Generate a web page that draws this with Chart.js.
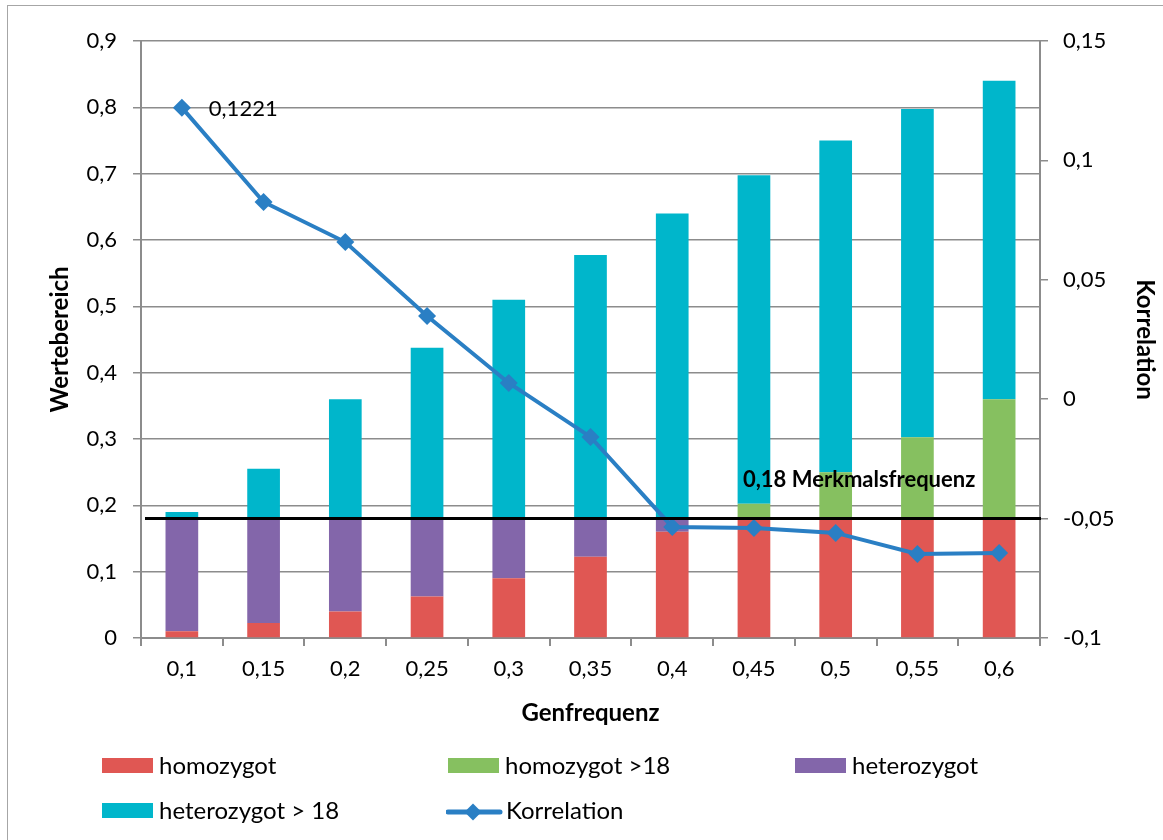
<!DOCTYPE html>
<html>
<head>
<meta charset="utf-8">
<script src="https://cdn.jsdelivr.net/npm/chart.js@4.4.1/dist/chart.umd.min.js"></script>
<style>
    body { margin: 0; background: #fff; font-family: Lato, "Open Sans", sans-serif; }
    #page { position: relative; width: 1163px; height: 840px; overflow: hidden; }
    #frame { position: absolute; left: 7px; top: 5px; width: 1200px; height: 900px; border: 1px solid #a6a6a6; }
    #chartBox { position: absolute; left: 0; top: 0; width: 1163px; height: 840px; }
    .legItem { position: absolute; font-size: 24px; color: #000; line-height: 28px; }
    .swatch { position: absolute; width: 51px; height: 15px; }
    .legText { position: absolute; white-space: nowrap; }
</style>
</head>
<body>
<div id="page">
    <div id="frame"></div>
    <div id="chartBox"><canvas id="genChart" width="1163" height="840"></canvas></div>
    <div id="legend"></div>
</div>
<script>
const categories = ["0,1", "0,15", "0,2", "0,25", "0,3", "0,35", "0,4", "0,45", "0,5", "0,55", "0,6"];

const homozygot = [0.01, 0.0225, 0.04, 0.0625, 0.09, 0.1225, 0.16, 0.18, 0.18, 0.18, 0.18];
const homozygotOver18 = [0, 0, 0, 0, 0, 0, 0, 0.0225, 0.07, 0.1225, 0.18];
const heterozygot = [0.17, 0.1575, 0.14, 0.1175, 0.09, 0.0575, 0.02, 0, 0, 0, 0];
const heterozygotOver18 = [0.01, 0.075, 0.18, 0.2575, 0.33, 0.3975, 0.46, 0.495, 0.5, 0.495, 0.48];

const korrelation = [0.1221, 0.0826, 0.0658, 0.0348, 0.0068, -0.0158, -0.0535, -0.0539, -0.056, -0.0648, -0.0644];

const merkmalsfrequenz = 0.18;

const leftTicks = [0, 0.1, 0.2, 0.3, 0.4, 0.5, 0.6, 0.7, 0.8, 0.9];
const rightTicks = [-0.1, -0.05, 0, 0.05, 0.1, 0.15];

const colors = {
    homozygot: "#e05753",
    homozygotOver18: "#86c060",
    heterozygot: "#8366aa",
    heterozygotOver18: "#00b6cb",
    korrelation: "#2a7fc4"
};

const gridGray = "#8c8c8c";
const FONT = "Lato, 'Open Sans', sans-serif";

function fmt(v) {
    const n = parseFloat(v.toFixed(4));
    return String(n).replace(".", ",");
}

// black threshold line, its label and the label of the first point
const thresholdPlugin = {
    id: "threshold",
    afterDatasetsDraw(chart) {
        const ctx = chart.ctx;
        const y = chart.scales.y.getPixelForValue(merkmalsfrequenz);
        const area = chart.chartArea;
        ctx.save();
        ctx.strokeStyle = "#000";
        ctx.lineWidth = 3;
        ctx.beginPath();
        ctx.moveTo(area.left + 4, y);
        ctx.lineTo(area.right + 1, y);
        ctx.stroke();

        const xs = chart.scales.x.getPixelForValue(7) - 11;
        ctx.fillStyle = "#000";
        ctx.font = "bold 22px " + FONT;
        ctx.textBaseline = "middle";
        ctx.textAlign = "left";
        ctx.fillText("0,18 Merkmalsfrequenz", xs, y - 39);

        const p = chart.getDatasetMeta(4).data[0];
        ctx.font = "22px " + FONT;
        ctx.fillText(fmt(korrelation[0]), p.x + 27, p.y + 1);
        ctx.restore();
    }
};

function buildLegend() {
    const items = [
        { label: "homozygot", color: colors.homozygot, x: 102, y: 766 },
        { label: "homozygot >18", color: colors.homozygotOver18, x: 448, y: 766 },
        { label: "heterozygot", color: colors.heterozygot, x: 795, y: 766 },
        { label: "heterozygot > 18", color: colors.heterozygotOver18, x: 102, y: 811 },
        { label: "Korrelation", color: colors.korrelation, x: 446, y: 811, line: true }
    ];
    const legend = document.getElementById("legend");
    items.forEach(item => {
        const el = document.createElement("div");
        el.className = "legItem";
        el.style.left = item.x + "px";
        el.style.top = (item.y - 14) + "px";
        if (item.line) {
            el.innerHTML = `
                <svg style="position:absolute;left:0;top:0" width="60" height="28">
                    <line x1="2" y1="15" x2="54" y2="15" stroke="${item.color}" stroke-width="5" stroke-linecap="round"/>
                    <rect x="21" y="9" width="12" height="12" fill="${item.color}" transform="rotate(45 27 15)"/>
                </svg>
                <span class="legText" style="left:60px;top:-1px">${item.label}</span>`;
        } else {
            el.innerHTML = `
                <div class="swatch" style="left:0;top:6px;background:${item.color}"></div>
                <span class="legText" style="left:57px;top:-1px">${item.label}</span>`;
        }
        legend.appendChild(el);
    });
}

function createChart() {
    const ctx = document.getElementById("genChart").getContext("2d");

    const barSet = (label, data, color) => ({
        type: "bar",
        label: label,
        data: data,
        backgroundColor: color,
        yAxisID: "y",
        stack: "s",
        order: 1,
        barPercentage: 0.4,
        categoryPercentage: 1.0
    });

    new Chart(ctx, {
        data: {
            labels: categories,
            datasets: [
                barSet("homozygot", homozygot, colors.homozygot),
                barSet("homozygot >18", homozygotOver18, colors.homozygotOver18),
                barSet("heterozygot", heterozygot, colors.heterozygot),
                barSet("heterozygot > 18", heterozygotOver18, colors.heterozygotOver18),
                {
                    type: "line",
                    label: "Korrelation",
                    data: korrelation,
                    yAxisID: "y1",
                    order: 0,
                    borderColor: colors.korrelation,
                    backgroundColor: colors.korrelation,
                    borderWidth: 4,
                    pointStyle: "rectRot",
                    pointRadius: 9,
                    pointBorderWidth: 0,
                    tension: 0
                }
            ]
        },
        options: {
            responsive: false,
            animation: false,
            devicePixelRatio: 1,
            layout: { padding: { left: 0, right: 0, top: 41, bottom: 108 } },
            plugins: {
                legend: { display: false },
                tooltip: { enabled: false }
            },
            scales: {
                x: {
                    stacked: true,
                    offset: true,
                    grid: {
                        offset: true,
                        drawOnChartArea: false,
                        tickLength: 8,
                        color: gridGray,
                        lineWidth: 2
                    },
                    border: { color: gridGray, width: 2 },
                    ticks: { color: "#000", font: { family: FONT, size: 22 }, padding: 10, maxRotation: 0 },
                    title: {
                        display: true,
                        text: "Genfrequenz",
                        color: "#000",
                        font: { family: FONT, size: 24, weight: "bold" },
                        padding: { top: 0, bottom: 4 }
                    },
                    afterFit(scale) { scale.height = 94; }
                },
                y: {
                    stacked: true,
                    position: "left",
                    min: 0,
                    max: 0.9,
                    afterBuildTicks(scale) { scale.ticks = leftTicks.map(v => ({ value: v })); },
                    grid: { color: gridGray, lineWidth: 1.5, tickLength: 8 },
                    border: { color: gridGray, width: 2 },
                    ticks: {
                        color: "#000",
                        font: { family: FONT, size: 22 },
                        padding: 16,
                        callback: v => fmt(v)
                    },
                    title: {
                        display: true,
                        text: "Wertebereich",
                        color: "#000",
                        font: { family: FONT, size: 24, weight: "bold" },
                        padding: { top: 46, bottom: 0 }
                    },
                    afterFit(scale) { scale.width = 141; }
                },
                y1: {
                    position: "right",
                    min: -0.1,
                    max: 0.15,
                    afterBuildTicks(scale) { scale.ticks = rightTicks.map(v => ({ value: v })); },
                    grid: { drawOnChartArea: false, color: gridGray, lineWidth: 1.5, tickLength: 8 },
                    border: { color: gridGray, width: 2 },
                    ticks: {
                        color: "#000",
                        font: { family: FONT, size: 22 },
                        padding: 15,
                        callback: v => fmt(v)
                    },
                    title: {
                        display: true,
                        text: "Korrelation",
                        color: "#000",
                        font: { family: FONT, size: 24, weight: "bold" },
                        padding: { top: 4, bottom: 0 }
                    },
                    afterFit(scale) { scale.width = 123; }
                }
            }
        },
        plugins: [thresholdPlugin]
    });
}

buildLegend();
createChart();
</script>
</body>
</html>
